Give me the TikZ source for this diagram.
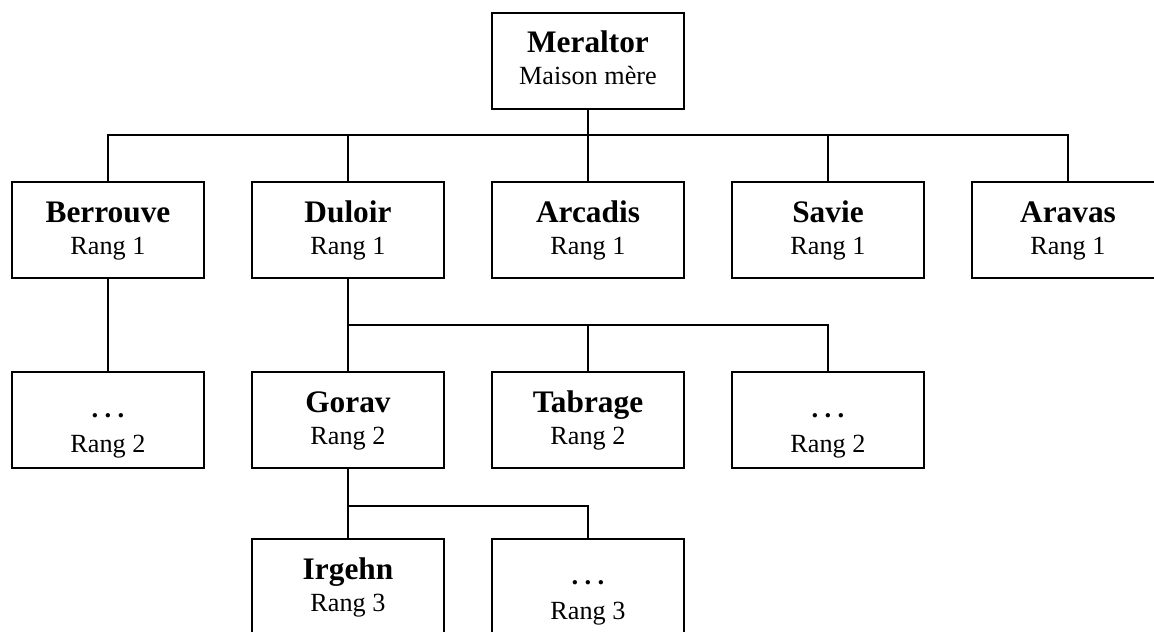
\documentclass[tikz,border=0pt]{standalone}
\usepackage{fontspec}
\setmainfont{Liberation Serif}
\usetikzlibrary{calc}
\tikzset{
  orgbox/.style={draw, line width=0.9pt, minimum width=86.4pt, minimum height=43.2pt, inner sep=0pt, anchor=north},
  titletext/.style={anchor=base, inner sep=0pt, font=\bfseries\fontsize{14.1}{16}\selectfont},
  subtext/.style={anchor=base, inner sep=0pt, font=\fontsize{11.8}{14}\selectfont},
  link/.style={line width=0.9pt},
}
\newcommand\orgunit[5]{%
  \node[orgbox] (#1) at (#2,#3) {};
  \node[titletext] (#1t) at ($(#1.north)+(0,41)$) {#4};
  \node[subtext] (#1s) at ($(#1.north)+(0,73)$) {#5};
}
\newcommand\orgdots[4]{%
  \node[orgbox] (#1) at (#2,#3) {};
  \node[subtext, font=\bfseries\fontsize{12}{14}\selectfont] (#1t) at ($(#1.north)+(0,46)$) {.\hspace{0.24em}.\hspace{0.24em}.};
  \node[subtext] (#1s) at ($(#1.north)+(0,81)$) {#4};
}
\begin{document}
\begin{tikzpicture}[x=0.45pt,y=-0.45pt]
\useasboundingbox (0,0) rectangle (1154,631);
\clip (0,0) rectangle (1154,631);
% top
\orgunit{mer}{588}{11.5}{Meraltor}{Maison mère}
% row 1
\orgunit{ber}{108}{181}{Berrouve}{Rang 1}
\orgunit{dul}{348}{181}{Duloir}{Rang 1}
\orgunit{arc}{588}{181}{Arcadis}{Rang 1}
\orgunit{sav}{828}{181}{Savie}{Rang 1}
\orgunit{ara}{1068}{181}{Aravas}{Rang 1}
% row 2
\orgdots{dA}{108}{371}{Rang 2}
\orgunit{gor}{348}{371}{Gorav}{Rang 2}
\orgunit{tab}{588}{371}{Tabrage}{Rang 2}
\orgdots{dB}{828}{371}{Rang 2}
% row 3
\orgunit{irg}{348}{538}{Irgehn}{Rang 3}
\orgdots{dC}{588}{538}{Rang 3}
% connectors
\foreach \c in {ber,dul,arc,sav,ara}
  \draw[link] (mer.south) -- ++(0,25) -| (\c.north);
\draw[link] (ber.south) -- (dA.north);
\foreach \c in {gor,tab,dB}
  \draw[link] (dul.south) -- ++(0,46) -| (\c.north);
\foreach \c in {irg,dC}
  \draw[link] (gor.south) -- ++(0,37) -| (\c.north);
\end{tikzpicture}
\end{document}
